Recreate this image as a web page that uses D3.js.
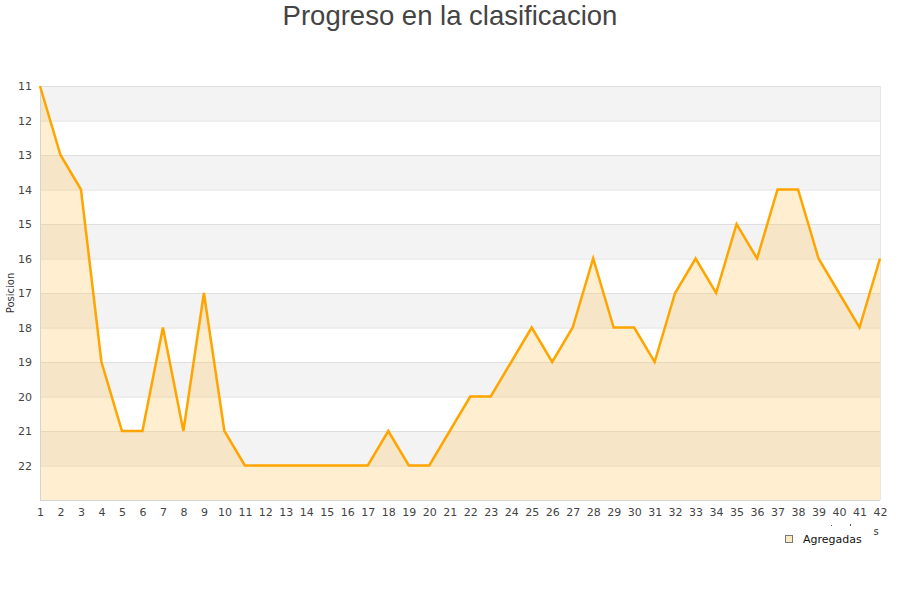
<!DOCTYPE html>
<html><head><meta charset="utf-8">
<script src="https://cdn.jsdelivr.net/npm/d3@7"></script>
<style>body{margin:0;background:#fff}</style>
</head><body>
<svg id="c" width="900" height="600"></svg>
<script>
const jornadas = d3.range(1, 43);
const posiciones = [11,13,14,19,21,21,18,21,17,21,22,22,22,22,22,22,22,21,22,22,21,20,20,19,18,19,18,16,18,18,19,17,16,17,15,16,14,14,16,17,18,16];
const yTicks = [11,12,13,14,15,16,17,18,19,20,21,22];
const title = "Progreso en la clasificacion";
const yTitle = "Posicion";
const seriesName = "Agregadas";

const svg = d3.select("#c");
const L = 40, R = 880, T = 86, B = 500;
const x = d3.scaleLinear().domain([1, 42]).range([L, R]);
const y = d3.scaleLinear().domain([11, 23]).range([T, B]);

// alternating bands
const bands = d3.range(11, 23);
svg.selectAll("rect.band").data(bands).join("rect")
  .attr("x", L).attr("width", R - L)
  .attr("y", d => y(d)).attr("height", d => y(d + 1) - y(d))
  .attr("fill", d => (d % 2 === 1) ? "#f3f3f3" : "#ffffff");

// grid lines
svg.selectAll("line.grid").data(yTicks).join("line")
  .attr("x1", L).attr("x2", R)
  .attr("y1", d => y(d) + 0.5).attr("y2", d => y(d) + 0.5)
  .attr("stroke", "#dedede").attr("stroke-width", 1);

// area
const area = d3.area().x((d, i) => x(jornadas[i])).y0(y(23)).y1(d => y(d));
svg.append("path").datum(posiciones).attr("d", area)
  .attr("fill", "rgb(255,200,100)").attr("fill-opacity", 0.3);

// borders
svg.append("line").attr("x1", L + 0.5).attr("x2", L + 0.5).attr("y1", T).attr("y2", B).attr("stroke", "#d4d4d4");
svg.append("line").attr("x1", L).attr("x2", R).attr("y1", B + 0.5).attr("y2", B + 0.5).attr("stroke", "#d4d4d4");
svg.append("line").attr("x1", R + 0.5).attr("x2", R + 0.5).attr("y1", T).attr("y2", B).attr("stroke", "#e6e6e6");

// line
const line = d3.line().x((d, i) => x(jornadas[i])).y(d => y(d));
svg.append("path").datum(posiciones).attr("d", line)
  .attr("fill", "none").attr("stroke", "#ffa500").attr("stroke-width", 2.5)
  .attr("stroke-linejoin", "miter");

// y axis labels
const yAxis = d3.axisLeft(y).tickValues(yTicks).tickSize(0).tickPadding(8);
const ga = svg.append("g").attr("transform", `translate(${L},0)`).call(yAxis);
ga.select(".domain").remove();
ga.selectAll("text").attr("font-family", "DejaVu Sans, Verdana, sans-serif").attr("font-size", 11).attr("fill", "#444");

// x axis labels
const xAxis = d3.axisBottom(x).tickValues(jornadas).tickSize(0).tickPadding(8).tickFormat(d3.format("d"));
const gx = svg.append("g").attr("transform", `translate(0,${B})`).call(xAxis);
gx.select(".domain").remove();
gx.selectAll("text").attr("font-family", "DejaVu Sans, Verdana, sans-serif").attr("font-size", 11).attr("fill", "#444");

// title
svg.append("text").attr("x", 450).attr("y", 25).attr("text-anchor", "middle")
  .attr("font-family", "Liberation Sans, Arial, sans-serif").attr("font-size", 27.5).attr("fill", "#444").text(title);

// y title
svg.append("text").attr("transform", "translate(14,293) rotate(-90)").attr("text-anchor", "middle")
  .attr("font-family", "DejaVu Sans, Verdana, sans-serif").attr("font-size", 10).attr("fill", "#333").text(yTitle);

// x title remnants
svg.append("text").attr("x", 876).attr("y", 535).attr("text-anchor", "middle")
  .attr("font-family", "DejaVu Sans, Verdana, sans-serif").attr("font-size", 10).attr("fill", "#333").text("s");
svg.append("rect").attr("x", 831).attr("y", 525).attr("width", 1).attr("height", 1).attr("fill", "#555");
svg.append("rect").attr("x", 850).attr("y", 524).attr("width", 1).attr("height", 2).attr("fill", "#555");

// legend
svg.append("rect").attr("x", 785.5).attr("y", 535.5).attr("width", 7).attr("height", 7)
  .attr("fill", "#fde9c2").attr("stroke", "#777").attr("stroke-width", 1);
svg.append("text").attr("x", 803).attr("y", 543)
  .attr("font-family", "DejaVu Sans, Verdana, sans-serif").attr("font-size", 11).attr("fill", "#111").text(seriesName);
</script>
</body></html>
